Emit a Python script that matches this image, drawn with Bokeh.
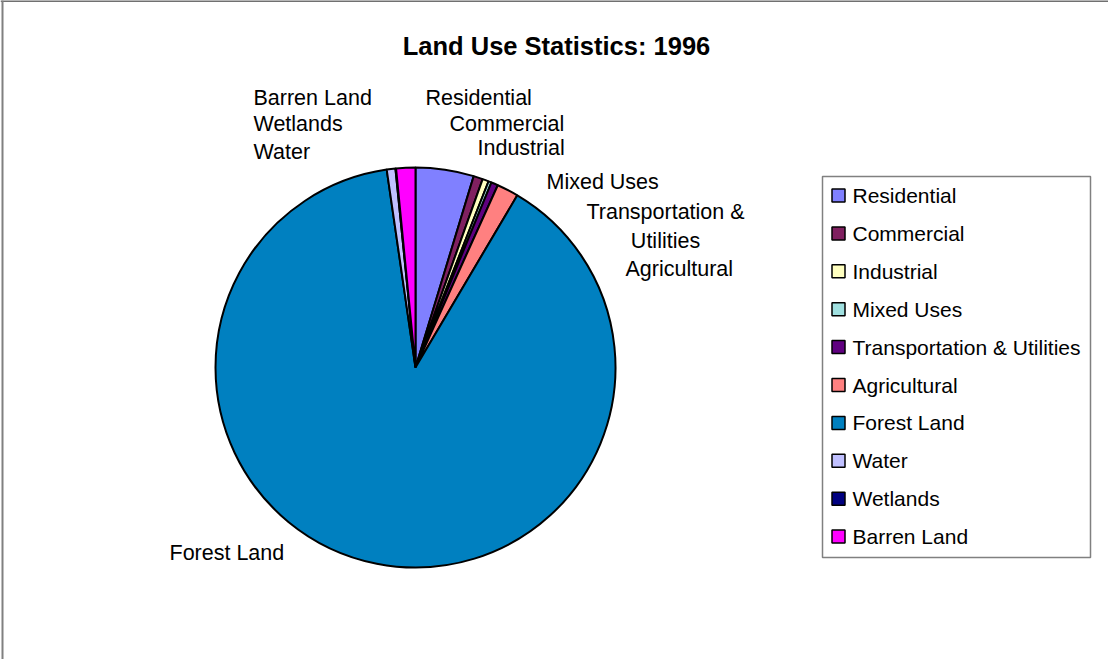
import math
from bokeh.plotting import figure
from bokeh.models import Range1d, ColumnDataSource
from bokeh.core.properties import value
from bokeh.embed import file_html
from bokeh.resources import INLINE

# ---- data ----
categories = ["Residential", "Commercial", "Industrial", "Mixed Uses",
              "Transportation & Utilities", "Agricultural", "Forest Land",
              "Water", "Wetlands", "Barren Land"]
shares = [4.7, 0.75, 0.5, 0.25, 0.55, 1.75, 89.2, 0.7, 0.05, 1.55]
colors = ["#8080FF", "#802060", "#FFFFC0", "#A0E0E0", "#600080",
          "#FF8080", "#0080C0", "#C0C0FF", "#000080", "#FF00FF"]
title_text = "Land Use Statistics: 1996"

# ---- layout (screen pixels) ----
W, H = 1108, 659
CX, CY, R = 415, 367, 200
label_text = ["Residential", "Commercial", "Industrial", "Mixed Uses",
              "Transportation &\nUtilities", "Agricultural", "Forest Land",
              "Water", "Wetlands", "Barren Land"]
label_x = [425, 449, 477, 546, 665, 625, 169, 253, 253, 253]
label_y = [97, 123, 147, 181, 226, 268, 552, 151, 123, 97]
label_align = ["left", "left", "left", "left", "center", "left", "left", "left", "left", "left"]
FONT = "Liberation Sans"

p = figure(width=W, height=H, output_backend="svg", toolbar_location=None,
           x_range=Range1d(0, W), y_range=Range1d(0, H),
           x_axis_location=None, y_axis_location=None, min_border=0,
           outline_line_color=None, background_fill_color="white")
p.xgrid.visible = False
p.ygrid.visible = False

def Y(y):
    return H - y

# pie
total = sum(shares)
starts, ends = [], []
cum = 0.0
for s in shares:
    a0 = math.pi / 2 - 2 * math.pi * (cum + s) / total
    a1 = math.pi / 2 - 2 * math.pi * cum / total
    starts.append(a0)
    ends.append(a1)
    cum += s
src = ColumnDataSource(dict(cat=categories, start=starts, end=ends, color=colors,
                            x=[CX] * len(categories), y=[Y(CY)] * len(categories)))
p.wedge(x="x", y="y", radius=R, start_angle="start", end_angle="end",
        direction="anticlock", fill_color="color", line_color="black",
        line_width=2, source=src)

# slice labels
for t, x, y, al in zip(label_text, label_x, label_y, label_align):
    p.text(x=[x], y=[Y(y)], text=[t], text_align=al, text_baseline="middle",
           text_font=value(FONT), text_font_size="21.5px", text_color="black",
           text_line_height=1.22)

# title
p.text(x=[556], y=[Y(45)], text=[title_text], text_align="center",
       text_baseline="middle", text_font=value(FONT), text_font_size="25.5px",
       text_font_style="bold", text_color="black")

# legend box
LX0, LX1, LY0, LY1 = 822, 1090, 176, 557
p.quad(left=[LX0], right=[LX1], top=[Y(LY0)], bottom=[Y(LY1)],
       fill_color="white", line_color="#808080", line_width=1.5)
step = 37.9
ly = [Y(195 + i * step) for i in range(len(categories))]
p.rect(x=[838] * len(categories), y=ly, width=13, height=13,
       fill_color=colors, line_color="black", line_width=1.5)
p.text(x=[852] * len(categories), y=ly, text=categories, text_align="left",
       text_baseline="middle", text_font=value(FONT), text_font_size="21px",
       text_color="black")

# chart border (top and left)
p.segment(x0=[0], y0=[H - 0.5], x1=[W], y1=[H - 0.5], line_color="#404040", line_width=1.5)
p.segment(x0=[2], y0=[0], x1=[2], y1=[H], line_color="#808080", line_width=2)

open("out.html", "w").write(file_html(p, INLINE))
